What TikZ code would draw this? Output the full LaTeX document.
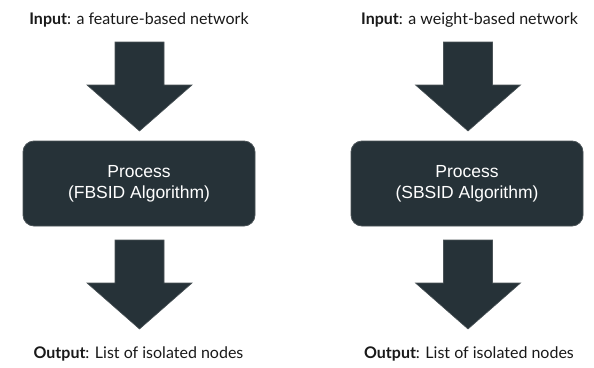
\documentclass[tikz,border=0pt]{standalone}
\usepackage{fontspec}
\setmainfont{Lato}
\newfontfamily\boxfont{Liberation Sans}
\definecolor{slate}{HTML}{263238}
\definecolor{slateedge}{HTML}{4A5357}
\begin{document}
\begin{tikzpicture}[x=1pt,y=-1pt,
  label/.style={font=\fontsize{16}{19}\selectfont, text=black!90, inner sep=0pt, anchor=center},
  procbox/.style={draw=slateedge, line width=0.8pt, fill=slate, rounded corners=11pt,
    minimum width=232pt, minimum height=85pt, inner sep=0pt,
    text=white, align=center, font=\boxfont\fontsize{17.5}{21}\selectfont},
  arrowfill/.style={fill=slate, draw=slateedge, line width=0.6pt, line join=miter},
  downarrow/.pic={
    \path[arrowfill] (-24.5,0) -- (24.5,0) -- (24.5,43) -- (52.5,43) -- (0,89)
      -- (-52.5,43) -- (-24.5,43) -- cycle;
  }]
\useasboundingbox[fill=white] (0,0) rectangle (594,367);

% feature-based pipeline
\node[label] (inA) at (139,20) {\textbf{Input}: a feature-based network};
\pic (arA1) at (139.5,42) {downarrow};
\node[procbox] (procA) at (139,183.5) {Process\\(FBSID Algorithm)};
\pic (arA2) at (139.5,240) {downarrow};
\node[label] (outA) at (138.5,354) {\textbf{Output}: List of isolated nodes};

% weight-based pipeline
\node[label] (inB) at (469.5,20) {\textbf{Input}: a weight-based network};
\pic (arB1) at (468,42) {downarrow};
\node[procbox] (procB) at (467,183.5) {Process\\(SBSID Algorithm)};
\pic (arB2) at (468,240) {downarrow};
\node[label] (outB) at (469,354) {\textbf{Output}: List of isolated nodes};
\end{tikzpicture}
\end{document}
